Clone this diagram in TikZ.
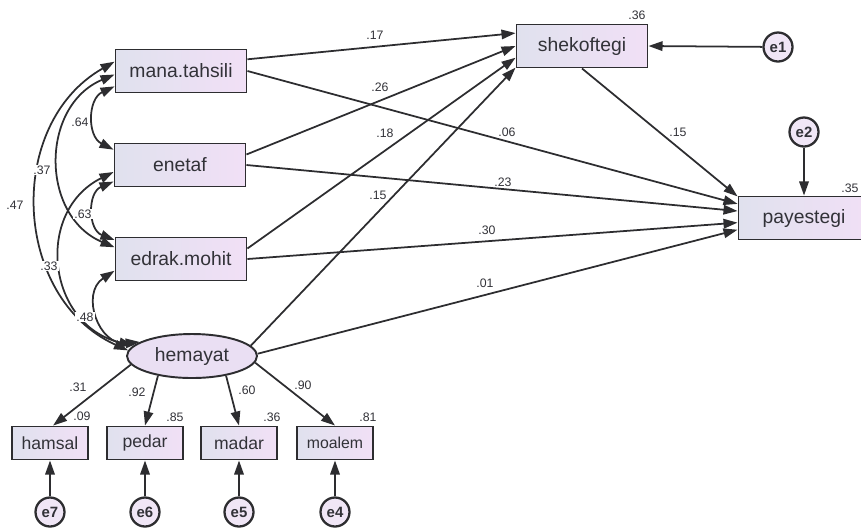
\documentclass[tikz,border=0pt]{standalone}
\usepackage{fontspec}
\setmainfont{Liberation Sans}
\usetikzlibrary{arrows.meta,shapes.geometric}

\definecolor{boxleft}{RGB}{224,225,238}
\definecolor{boxright}{RGB}{241,224,246}
\definecolor{latfill}{RGB}{234,223,243}
\definecolor{errfill}{RGB}{240,230,246}
\definecolor{edgegray}{RGB}{45,45,48}
\definecolor{textgray}{RGB}{50,50,56}

\begin{document}
\begin{tikzpicture}[x=0.02cm,y=-0.02cm,
		>={Triangle[length=8pt,width=5.4pt]},
		observed/.style={rectangle,draw=edgegray,line width=1.1pt,left color=boxleft,right color=boxright,
			minimum width=2.62cm,minimum height=0.86cm,inner sep=0pt,text=textgray,font=\fontsize{11}{12}\selectfont},
		indicator/.style={observed,minimum width=1.52cm,minimum height=0.66cm,font=\fontsize{10}{11}\selectfont},
		latent/.style={ellipse,draw=edgegray,line width=1.1pt,fill=latfill,minimum width=2.6cm,minimum height=0.88cm,
			inner sep=0pt,text=textgray,font=\fontsize{11}{12}\selectfont},
		errvar/.style={circle,draw=edgegray,line width=1.3pt,fill=errfill,minimum size=0.58cm,inner sep=0pt,
			text=textgray,font=\fontsize{8.5}{9}\bfseries},
		coef/.style={inner sep=0.6pt,text=textgray,font=\fontsize{7}{8}\selectfont},
		link/.style={draw=edgegray,line width=1pt}]
		\useasboundingbox (0,0) rectangle (861,529);

		\node at (181,  71) [observed]  (mana)    {mana.tahsili};
		\node at (180, 165) [observed]  (enetaf)  {enetaf};
		\node at (181, 259) [observed]  (edrak)   {edrak.mohit};
		\node at (192, 356) [latent]    (hemayat) {hemayat};
		\node at (582,  46) [observed]  (shek)    {shekoftegi};
		\node at (804, 218) [observed]  (pay)     {payestegi};
		\node at (778,  47) [errvar]    (e1)      {e1};
		\node at (804, 132) [errvar]    (e2)      {e2};

		\node at ( 50, 443) [indicator] (hamsal)  {hamsal};
		\node at (145, 443) [indicator] (pedar)   {pedar};
		\node at (239, 443) [indicator] (madar)   {madar};
		\node at (335, 443) [indicator,font=\fontsize{9}{10}\selectfont] (moalem) {moalem};
		\node at ( 50, 512) [errvar]    (e7)      {e7};
		\node at (145, 512) [errvar]    (e6)      {e6};
		\node at (239, 512) [errvar]    (e5)      {e5};
		\node at (335, 512) [errvar]    (e4)      {e4};

		% regression paths
		\draw[->,link] (mana.10)     -- (shek.169);
		\draw[->,link] (mana.east)   -- (pay.168);
		\draw[->,link] (enetaf.9)    -- (shek.west);
		\draw[->,link] (enetaf.east) -- (pay.174);
		\draw[->,link] (edrak.9)     -- (shek.190);
		\draw[->,link] (edrak.east)  -- (pay.184);
		\draw[->,link] (hemayat.10)  -- (shek.198);
		\draw[->,link] (hemayat.2)   -- (pay.190);
		\draw[->,link] (shek.south)  -- (pay.162);
		\draw[->,link] (e1)          -- (shek.east);
		\draw[->,link] (e2)          -- (pay.north);

		% measurement part
		\draw[->,link] (hemayat.188) -- (hamsal.80);
		\draw[->,link] (hemayat.210) -- (pedar.north);
		\draw[->,link] (hemayat.330) -- (madar.north);
		\draw[->,link] (hemayat.354) -- (moalem.north);
		\draw[->,link] (e7) -- (hamsal);
		\draw[->,link] (e6) -- (pedar);
		\draw[->,link] (e5) -- (madar);
		\draw[->,link] (e4) -- (moalem);

		% covariances
		\draw[<->,link] (mana.172)   to[bend right=63,looseness=1.12] (hemayat.175);
		\draw[<->,link] (mana.183)   to[bend right=67,looseness=1.2]  (edrak.170);
		\draw[<->,link] (mana.193)   to[bend right=64,looseness=1.2]  (enetaf.167);
		\draw[<->,link] (enetaf.194) to[bend right=68,looseness=1.25] (edrak.164);
		\draw[<->,link] (enetaf.186) to[bend right=70,looseness=1.3]  (hemayat.170);
		\draw[<->,link] (edrak.190)  to[bend right=76,looseness=1.4]  (hemayat.165);

		% estimates
		\node at ( 80, 122) [coef,fill=white] (c_mana_enetaf)    {.64};
		\node at ( 42, 170) [coef,fill=white] (c_mana_edrak)     {.37};
		\node at ( 15, 205) [coef]            (c_mana_hemayat)   {.47};
		\node at ( 83, 214) [coef,fill=white] (c_enetaf_edrak)   {.63};
		\node at ( 49, 266) [coef,fill=white] (c_enetaf_hemayat) {.33};
		\node at ( 85, 317) [coef,fill=white] (c_edrak_hemayat)  {.48};

		\node at (375,  35) [coef] (b_mana_shek)     {.17};
		\node at (380,  87) [coef] (b_enetaf_shek)   {.26};
		\node at (385, 133) [coef] (b_edrak_shek)    {.18};
		\node at (378, 195) [coef] (b_hemayat_shek)  {.15};
		\node at (507, 132) [coef] (b_mana_pay)      {.06};
		\node at (503, 182) [coef] (b_enetaf_pay)    {.23};
		\node at (487, 230) [coef] (b_edrak_pay)     {.30};
		\node at (485, 283) [coef] (b_hemayat_pay)   {.01};
		\node at (678, 132) [coef] (b_shek_pay)      {.15};

		\node at (637,  15) [coef] (r_shek)    {.36};
		\node at (850, 188) [coef] (r_pay)     {.35};
		\node at ( 82, 416) [coef] (r_hamsal)  {.09};
		\node at (175, 417) [coef] (r_pedar)   {.85};
		\node at (272, 417) [coef] (r_madar)   {.36};
		\node at (368, 417) [coef] (r_moalem)  {.81};

		\node at ( 78, 387) [coef] (l_hamsal)  {.31};
		\node at (137, 392) [coef] (l_pedar)   {.92};
		\node at (247, 390) [coef] (l_madar)   {.60};
		\node at (303, 385) [coef] (l_moalem)  {.90};
	\end{tikzpicture}
\end{document}
